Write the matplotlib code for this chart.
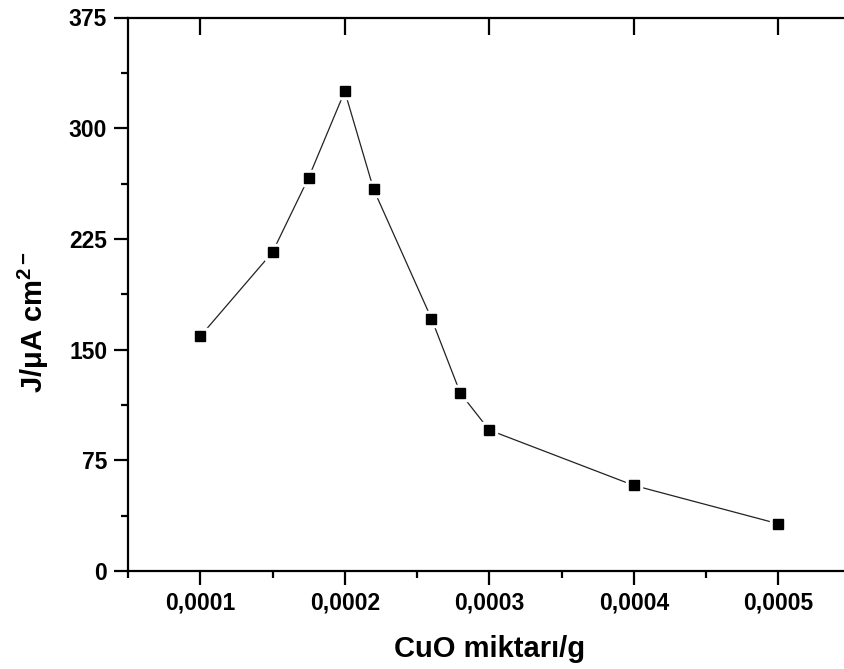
import matplotlib
matplotlib.use("Agg")
import matplotlib.pyplot as plt
from matplotlib.ticker import MultipleLocator, FuncFormatter

# CuO amount (g) vs current density J (uA cm^-2)
cuo_mass = [0.0001, 0.00015, 0.000175, 0.0002, 0.00022, 0.00026, 0.00028, 0.0003, 0.0004, 0.0005]
current_density = [159, 216, 266.5, 325, 258.5, 171, 120.5, 95.5, 58, 32]

x_ticks = [0.0001, 0.0002, 0.0003, 0.0004, 0.0005]
x_tick_labels = ["0,0001", "0,0002", "0,0003", "0,0004", "0,0005"]

plt.rcParams['font.family'] = ['Liberation Sans', 'DejaVu Sans']
plt.rcParams['font.weight'] = 'bold'
plt.rcParams['mathtext.fontset'] = 'custom'
plt.rcParams['mathtext.rm'] = 'Liberation Sans:bold'
plt.rcParams['mathtext.it'] = 'Liberation Sans:bold'
plt.rcParams['mathtext.bf'] = 'Liberation Sans:bold'
plt.rcParams['mathtext.default'] = 'rm'

W, H = 844, 669
fig = plt.figure(figsize=(W / 100, H / 100), dpi=100)
# axes box in pixels (right spine falls just outside the picture)
left, right, top, bottom = 128, 850.5, 17.5, 571
ax = fig.add_axes([left / W, 1 - bottom / H, (right - left) / W, (bottom - top) / H])

# line, then a white halo around each marker to leave gaps, then the markers
ax.plot(cuo_mass, current_density, color='#222222', linewidth=0.9, zorder=2)
ax.plot(cuo_mass, current_density, linestyle='none', marker='s', markersize=11,
        color='white', zorder=3)
ax.plot(cuo_mass, current_density, linestyle='none', marker='s', markersize=7.4,
        color='black', zorder=4)

ax.set_xlim(0.00005, 0.00055)
ax.set_ylim(0, 375)

ax.set_xticks(x_ticks)
ax.set_xticklabels(x_tick_labels)
ax.xaxis.set_minor_locator(MultipleLocator(0.00005))
ax.yaxis.set_major_locator(MultipleLocator(75))
ax.yaxis.set_minor_locator(MultipleLocator(37.5))
ax.yaxis.set_major_formatter(FuncFormatter(lambda v, p: f"{v:.0f}"))

for s in ax.spines.values():
    s.set_linewidth(1.6)

ax.tick_params(which='major', direction='out', length=10, width=1.6,
               labelsize=16.5, pad=5)
ax.tick_params(which='minor', direction='out', length=5, width=1.6)
ax.tick_params(which='major', top=True, right=True)
# ticks on top and right point inward
for t in ax.xaxis.get_major_ticks():
    t.tick2line.set_marker(3)
    t.tick2line.set_markersize(12)
for t in ax.yaxis.get_major_ticks():
    t.tick2line.set_marker(1)
    t.tick2line.set_markersize(12)
ax.tick_params(which='minor', top=False, right=False)

ax.set_xlabel("CuO miktarı/g", fontsize=21, fontweight='bold')
ax.xaxis.label.set_va('baseline')
ax.xaxis.set_label_coords(0.5, -0.155)

ax.set_ylabel("J/μA cm$^{2-}$", fontsize=21, fontweight='bold')
ax.yaxis.label.set_va('center')
ax.yaxis.label.set_ha('center')
ax.yaxis.set_label_coords(-0.131, 0.45)

fig.savefig("out.png", dpi=100)
